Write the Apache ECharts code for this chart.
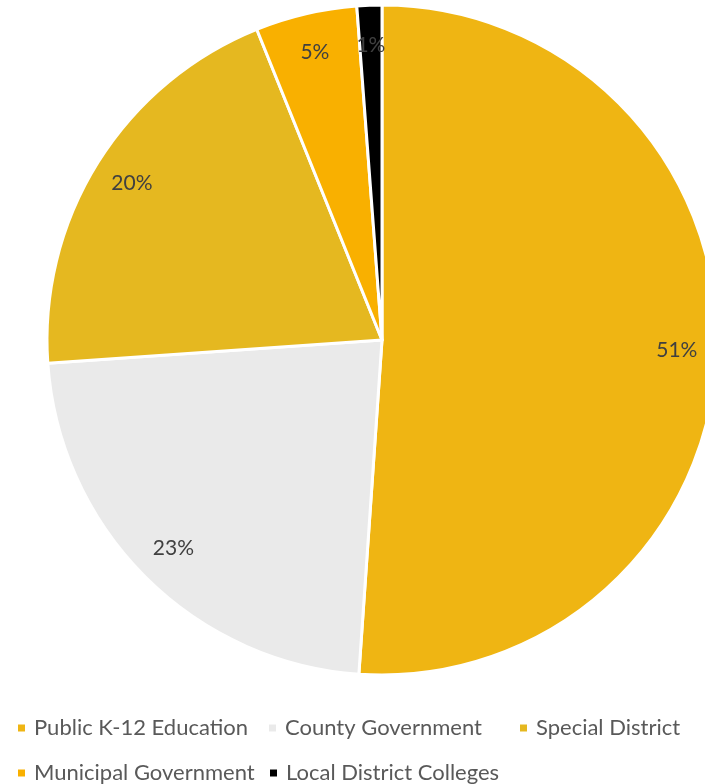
<!DOCTYPE html>
<html><head><meta charset="utf-8">
<script src="https://cdn.jsdelivr.net/npm/echarts@6/dist/echarts.min.js"></script>
<style>html,body{margin:0;padding:0;background:#fff}#c{width:705px;height:784px}</style>
</head><body><div id="c"></div>
<script>
const categories = ["Public K-12 Education","County Government","Special District","Municipal Government","Local District Colleges"];
const values = [51.1,22.8,20.0,4.9,1.2];
const colors = ["#EFB513","#EAEAEA","#E5B820","#F9B000","#000000"];
const legendPos = [[11,711],[262,711],[513,711],[11,756],[263,756]];

const data = categories.map((n,i)=>({name:n,value:values[i],itemStyle:{color:colors[i]}}));
const font = "Lato, 'Open Sans', sans-serif";

const chart = echarts.init(document.getElementById('c'));
chart.setOption({
  animation:false,
  legend: categories.map((n,i)=>({
    data:[n], left:legendPos[i][0], top:legendPos[i][1], icon:'rect', itemWidth:9, itemHeight:9, itemGap:0,
    textStyle:{fontFamily:font,fontSize:22,lineHeight:24,color:'#595959',padding:[0,0,0,3]}, selectedMode:false
  })),
  series:[
    {type:'pie', center:[382,340], radius:[0,335], startAngle:90, clockwise:true,
     data:data, label:{show:false}, labelLine:{show:false},
     itemStyle:{borderColor:'#fff',borderWidth:3}, silent:true},
    {type:'pie', center:[382,340], radius:[252,332], startAngle:90, clockwise:true,
     data:categories.map((n,i)=>({name:n+' ',value:values[i],itemStyle:{color:'rgba(0,0,0,0)'}})),
     itemStyle:{borderWidth:0}, silent:true,
     label:{show:true,position:'inside',formatter:p=>Math.round(p.value)+'%',fontFamily:font,fontSize:21,color:'#404040'},
     labelLine:{show:false}}
  ]
});
</script></body></html>
